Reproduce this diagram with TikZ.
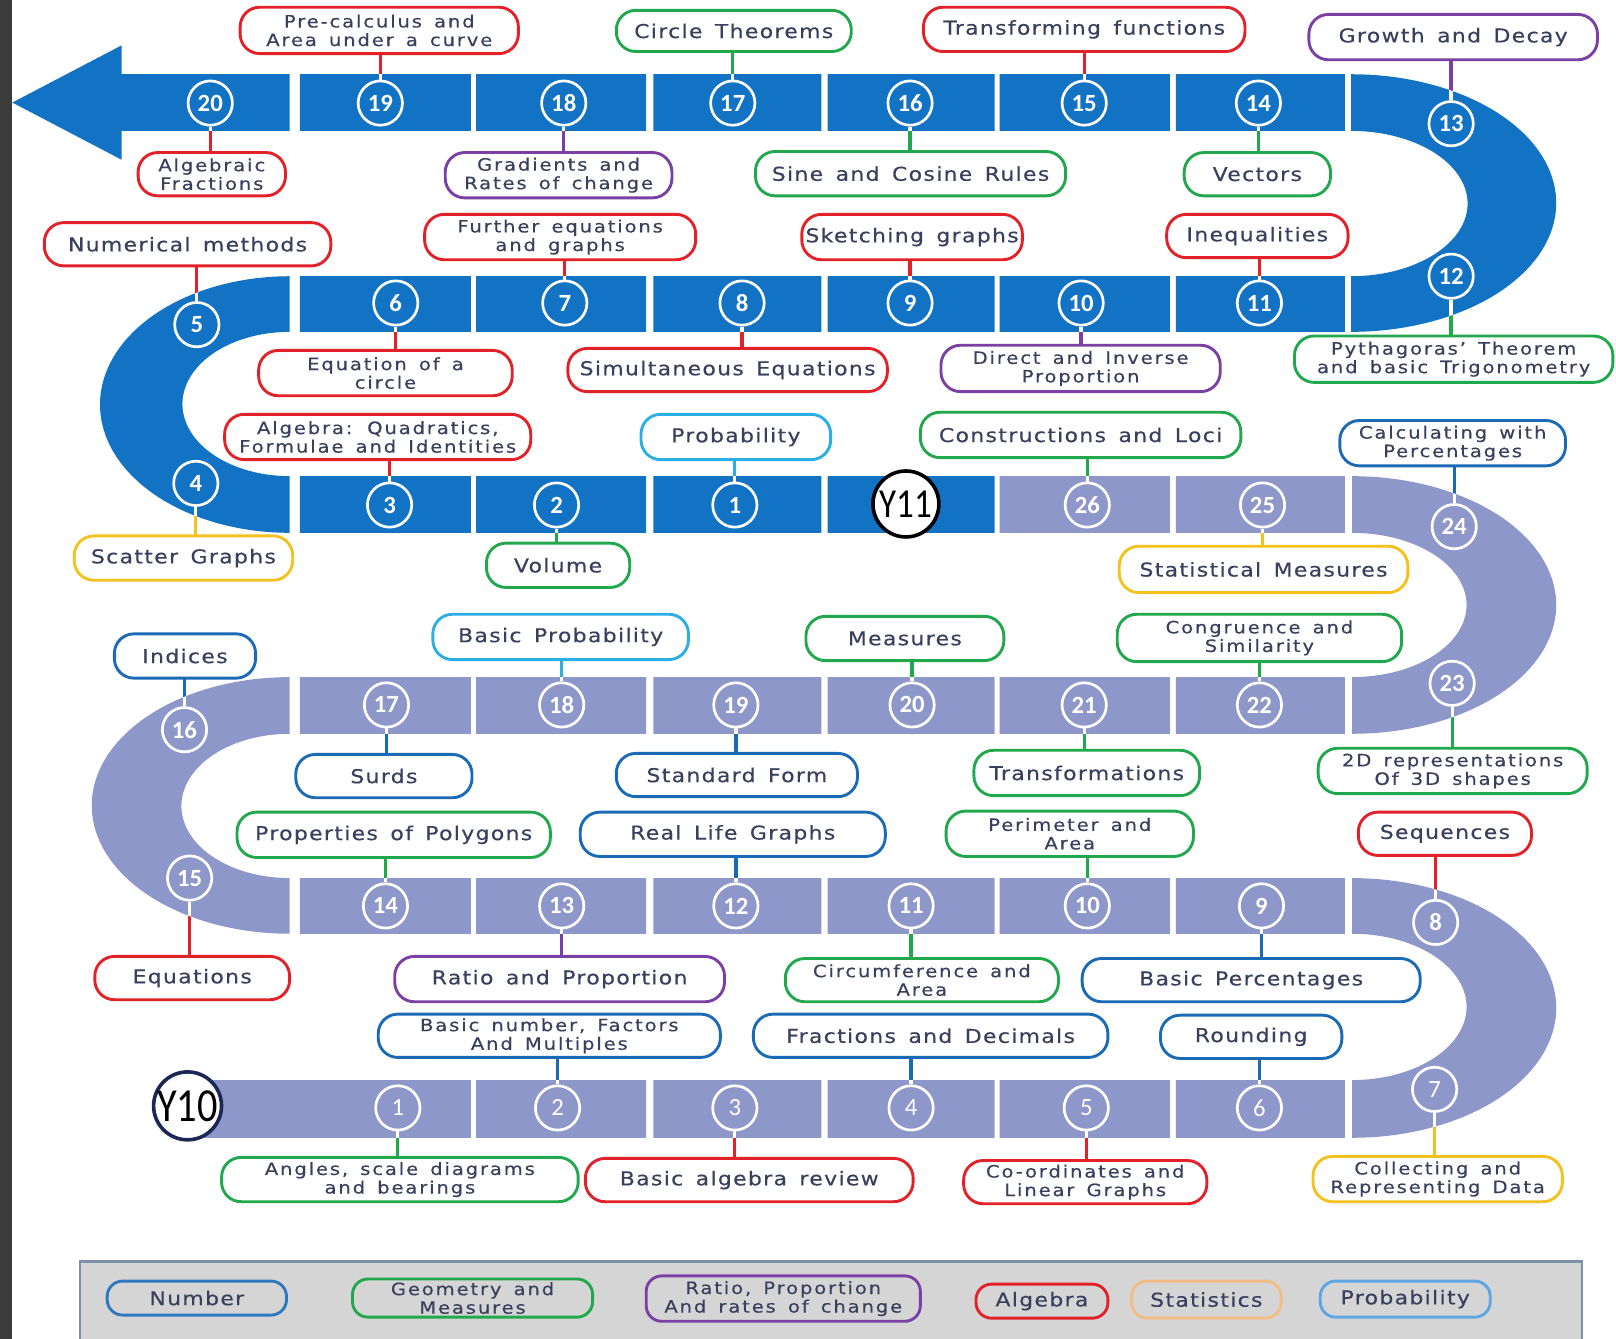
\documentclass[tikz,border=0pt]{standalone}
\usepackage{fontspec}
\setmainfont{DejaVu Sans}
\newfontfamily\labfamA{DejaVu Sans}[FakeStretch=1.15,FakeBold=0.4,LetterSpace=7,WordSpace=1.5]
\newfontfamily\labfamB{DejaVu Sans}[FakeStretch=1.15,FakeBold=0.4,LetterSpace=11,WordSpace=1.5]
\newfontfamily\numfam{Carlito}
\newfontfamily\yearfam{Carlito}[FakeStretch=0.85]
\newfontfamily\yeartenfam{Carlito}[FakeStretch=0.85]
\newcommand\labone{\labfamA\fontsize{18.5}{20}\selectfont}
\newcommand\labtwo{\labfamB\fontsize{16.5}{18}\selectfont}

\definecolor{bandblue}{HTML}{1272C4}
\definecolor{bandlav}{HTML}{8E97C9}
\definecolor{ink}{HTML}{38405E}
\definecolor{algebra}{HTML}{E32128}
\definecolor{geometry}{HTML}{22A84C}
\definecolor{ratio}{HTML}{7B40A3}
\definecolor{stats}{HTML}{F4C21F}
\definecolor{number}{HTML}{1A6AB5}
\definecolor{prob}{HTML}{2AAEE5}
\definecolor{statsleg}{HTML}{F3BE86}
\definecolor{probleg}{HTML}{5EA6E3}
\definecolor{numberleg}{HTML}{2E78BF}
\definecolor{legfill}{HTML}{D5D5D5}
\definecolor{legedge}{HTML}{7E90A8}
\definecolor{sidebar}{HTML}{3B3B3B}
\definecolor{yringten}{HTML}{1C2755}

\pgfdeclarelayer{canvas}
\pgfdeclarelayer{bands}
\pgfdeclarelayer{links}
\pgfsetlayers{canvas,bands,links,main}

\tikzset{
  topic/.style={draw=#1, line width=2.8pt, rounded corners=19pt, fill=white, text=ink,
    align=center, inner sep=0pt, font=\labone},
  topic2/.style={topic=#1, font=\labtwo},
  numc/.style={circle, draw=white, line width=2.6pt, minimum size=43pt, inner sep=0pt,
    text=white, font=\numfam\bfseries\fontsize{24}{24}\selectfont},
  circblue/.style={numc, fill=bandblue},
  circlav/.style={numc, fill=bandlav},
  circlavthin/.style={circlav, font=\numfam\fontsize{24}{24}\selectfont},
  yearc/.style={circle, fill=white, line width=3.5pt, minimum size=64pt, inner sep=0pt,
    text=black, font=\yearfam\fontsize{40}{40}\selectfont},
  yearten/.style={yearc, minimum size=62pt, font=\yeartenfam\fontsize{46}{46}\selectfont},
  link/.style={line width=3.2pt},
  legitem/.style={draw=#1, line width=2.8pt, rounded corners=15pt, text=ink,
    align=center, inner sep=0pt, font=\labone},
  legitem2/.style={legitem=#1, font=\labtwo},
}

% Year 11 track (dark blue): arrow row, right bend, middle row, left bend, start row
\def\bandsBlue{
  (12,99.5) -- (118,44) -- (118,72) -- (281,72) -- (281,127) -- (118,127) -- (118,155) -- cycle
  (291,72) rectangle (457,127) (462,72) rectangle (627,127) (634,72) rectangle (797,127)
  (803,72) rectangle (965,127) (970,72) rectangle (1135,127) (1141,72) rectangle (1305,127)
  plot[domain=-90:90,samples=72] ({1311+199*cos(\x)},{197+125*sin(\x)})
  -- plot[domain=90:-90,samples=72] ({1311+113*cos(\x)},{197.5+70.5*sin(\x)}) -- cycle
  (291,268) rectangle (457,322) (462,268) rectangle (627,322) (634,268) rectangle (797,322)
  (803,268) rectangle (965,322) (970,268) rectangle (1135,322) (1141,268) rectangle (1305,322)
  plot[domain=270:90,samples=72] ({281+184*cos(\x)},{392.5+124.5*sin(\x)})
  -- plot[domain=90:270,samples=72] ({281+104*cos(\x)},{392+70*sin(\x)}) -- cycle
  (291,462) rectangle (457,517) (462,462) rectangle (627,517) (634,462) rectangle (797,517)
  (803,462) rectangle (965,517)
}
% Year 10 track (lavender)
\def\bandsLav{
  (970,462) rectangle (1135,517) (1141,462) rectangle (1305,517)
  plot[domain=-90:90,samples=72] ({1312+198*cos(\x)},{587+125*sin(\x)})
  -- plot[domain=90:-90,samples=72] ({1312+111*cos(\x)},{587+70*sin(\x)}) -- cycle
  (291,657) rectangle (457,712) (462,657) rectangle (627,712) (634,657) rectangle (797,712)
  (803,657) rectangle (965,712) (970,657) rectangle (1135,712) (1141,657) rectangle (1305,712)
  plot[domain=270:90,samples=72] ({281+192*cos(\x)},{781.5+124.5*sin(\x)})
  -- plot[domain=90:270,samples=72] ({281+105*cos(\x)},{782+70*sin(\x)}) -- cycle
  (291,852) rectangle (457,906) (462,852) rectangle (627,906) (634,852) rectangle (797,906)
  (803,852) rectangle (965,906) (970,852) rectangle (1135,906) (1141,852) rectangle (1305,906)
  plot[domain=-90:90,samples=72] ({1312+198*cos(\x)},{978+126*sin(\x)})
  -- plot[domain=90:-90,samples=72] ({1312+111*cos(\x)},{977+71*sin(\x)}) -- cycle
  (182,1048) rectangle (457,1104) (462,1048) rectangle (627,1104) (634,1048) rectangle (797,1104)
  (803,1048) rectangle (965,1104) (970,1048) rectangle (1135,1104) (1141,1048) rectangle (1305,1104)
}

% topic box / numbered stop / colour
\def\linklist{prec/c19/algebra, circth/c17/geometry, transf/c15/algebra, growth/c13/ratio,
  algfrac/c20/algebra, grad/c18/ratio, sine/c16/geometry, vect/c14/geometry,
  numer/c5/algebra, further/c7/algebra, sketch/c9/algebra, ineq/c11/algebra,
  eqcirc/c6/algebra, simul/c8/algebra, direct/c10/ratio, pyth/c12/geometry,
  algq/c3/algebra, probA/c1/prob, constr/d26/geometry, calcpct/d24/number,
  scatter/c4/stats, volume/c2/geometry, statm/d25/stats,
  indices/d16/number, bprob/d18/prob, measures/d20/geometry, congr/d22/geometry,
  surds/d17/number, stdform/d19/number, transfm/d21/geometry, twod/d23/geometry,
  polyg/d14/geometry, reallife/d12/number, perim/d10/geometry, seq/d8/algebra,
  equat/d15/algebra, ratiop/d13/ratio, circum/d11/geometry, bpct/d9/number,
  bnumb/d2/number, fracdec/d4/number, rounding/d6/number,
  angles/d1/geometry, balg/d3/algebra, coord/d5/algebra, collect/d7/stats}

\begin{document}
\begin{tikzpicture}[x=1pt,y=-1pt]
\useasboundingbox (0,0) rectangle (1568,1299);
\begin{pgfonlayer}{canvas}
  \fill[white] (0,0) rectangle (1568,1299);
  \fill[sidebar] (0,0) rectangle (12,1299);
\end{pgfonlayer}

\begin{pgfonlayer}{bands}
  \fill[bandblue] \bandsBlue;
  \fill[bandlav] \bandsLav;
\end{pgfonlayer}

% ---- numbered stops, Year 11
\node[circblue] (c20) at (204,100) {20};
\node[circblue] (c19) at (369,100) {19};
\node[circblue] (c18) at (547,100) {18};
\node[circblue] (c17) at (711,100) {17};
\node[circblue] (c16) at (883,100) {16};
\node[circblue] (c15) at (1052,100) {15};
\node[circblue] (c14) at (1221,100) {14};
\node[circblue] (c13) at (1408,120) {13};
\node[circblue] (c12) at (1408,268) {12};
\node[circblue] (c11) at (1222,294) {11};
\node[circblue] (c10) at (1049,294) {10};
\node[circblue] (c9) at (883,294) {9};
\node[circblue] (c8) at (720,294) {8};
\node[circblue] (c7) at (548,294) {7};
\node[circblue] (c6) at (384,294) {6};
\node[circblue] (c5) at (191,315) {5};
\node[circblue] (c4) at (190,469) {4};
\node[circblue] (c3) at (378,490) {3};
\node[circblue] (c2) at (540,490) {2};
\node[circblue] (c1) at (713,490) {1};
\node[yearc, draw=black] (yeleven) at (879,489) {Y11};

% ---- numbered stops, Year 10
\node[circlav] (d26) at (1055,490) {26};
\node[circlav] (d25) at (1225,490) {25};
\node[circlav] (d24) at (1411,511) {24};
\node[circlav] (d23) at (1409,663) {23};
\node[circlav] (d22) at (1222,684) {22};
\node[circlav] (d21) at (1052,684) {21};
\node[circlav] (d20) at (885,684) {20};
\node[circlav] (d19) at (714,684) {19};
\node[circlav] (d18) at (545,684) {18};
\node[circlav] (d17) at (375,684) {17};
\node[circlav] (d16) at (179,708) {16};
\node[circlav] (d15) at (184,852) {15};
\node[circlav] (d14) at (374,879) {14};
\node[circlav] (d13) at (545,879) {13};
\node[circlav] (d12) at (714,879) {12};
\node[circlav] (d11) at (884,879) {11};
\node[circlav] (d10) at (1055,879) {10};
\node[circlav] (d9) at (1224,879) {9};
\node[circlav] (d8) at (1393,895) {8};
\node[circlavthin] (d7) at (1392,1057) {7};
\node[circlavthin] (d6) at (1222,1075) {6};
\node[circlavthin] (d5) at (1054,1075) {5};
\node[circlavthin] (d4) at (884,1075) {4};
\node[circlavthin] (d3) at (713,1075) {3};
\node[circlavthin] (d2) at (541,1075) {2};
\node[circlavthin] (d1) at (386,1075) {1};
\node[yearten, draw=yringten] (yten) at (182,1073) {Y10};

% ---- topic boxes
\node[topic2=algebra, minimum width=270pt, minimum height=45pt] (prec) at (368,29.5) {Pre-calculus and\\Area under a curve};
\node[topic=geometry, minimum width=228pt, minimum height=40pt] (circth) at (712,30) {Circle Theorems};
\node[topic=algebra, minimum width=312pt, minimum height=43pt] (transf) at (1052,28.5) {Transforming functions};
\node[topic=ratio, minimum width=280pt, minimum height=44pt] (growth) at (1410,36) {Growth and Decay};
\node[topic2=algebra, minimum width=143pt, minimum height=42pt] (algfrac) at (205.5,169) {Algebraic\\Fractions};
\node[topic2=ratio, minimum width=220pt, minimum height=44pt] (grad) at (542,170) {Gradients and\\Rates of change};
\node[topic=geometry, minimum width=301pt, minimum height=43pt] (sine) at (883.5,168.5) {Sine and Cosine Rules};
\node[topic=geometry, minimum width=142pt, minimum height=42pt] (vect) at (1220,169) {Vectors};

\node[topic=algebra, minimum width=278pt, minimum height=42pt] (numer) at (182,237) {Numerical methods};
\node[topic2=algebra, minimum width=263pt, minimum height=44pt] (further) at (543.5,230) {Further equations\\and graphs};
\node[topic=algebra, minimum width=214pt, minimum height=44pt] (sketch) at (885,230) {Sketching graphs};
\node[topic=algebra, minimum width=176pt, minimum height=42pt] (ineq) at (1220,229) {Inequalities};
\node[topic2=algebra, minimum width=246pt, minimum height=44pt] (eqcirc) at (374,362) {Equation of a\\circle};
\node[topic=algebra, minimum width=310pt, minimum height=42pt] (simul) at (706,359) {Simultaneous Equations};
\node[topic2=ratio, minimum width=271pt, minimum height=45pt] (direct) at (1048.5,357.5) {Direct and Inverse\\Proportion};
\node[topic2=geometry, minimum width=309pt, minimum height=45pt] (pyth) at (1410.5,348.5) {Pythagoras’ Theorem\\and basic Trigonometry};

\node[topic2=algebra, minimum width=297pt, minimum height=44pt] (algq) at (366.5,424) {Algebra: Quadratics,\\Formulae and Identities};
\node[topic=prob, minimum width=184pt, minimum height=44pt] (probA) at (714,424) {Probability};
\node[topic=geometry, minimum width=311pt, minimum height=44pt] (constr) at (1048.5,422) {Constructions and Loci};
\node[topic2=number, minimum width=219pt, minimum height=44pt] (calcpct) at (1409.5,430) {Calculating with\\Percentages};
\node[topic=stats, minimum width=212pt, minimum height=43pt] (scatter) at (178,541.5) {Scatter Graphs};
\node[topic=geometry, minimum width=139pt, minimum height=43pt] (volume) at (541.5,548.5) {Volume};
\node[topic=stats, minimum width=280pt, minimum height=45pt] (statm) at (1226,552.5) {Statistical Measures};

\node[topic=number, minimum width=137pt, minimum height=43pt] (indices) at (179.5,636.5) {Indices};
\node[topic=prob, minimum width=248pt, minimum height=44pt] (bprob) at (544,618) {Basic Probability};
\node[topic=geometry, minimum width=192pt, minimum height=43pt] (measures) at (878,619.5) {Measures};
\node[topic2=geometry, minimum width=276pt, minimum height=46pt] (congr) at (1222,619) {Congruence and\\Similarity};
\node[topic=number, minimum width=171pt, minimum height=42pt] (surds) at (372.5,753) {Surds};
\node[topic=number, minimum width=234pt, minimum height=42pt] (stdform) at (715,752) {Standard Form};
\node[topic=geometry, minimum width=219pt, minimum height=44pt] (transfm) at (1054.5,750) {Transformations};
\node[topic2=geometry, minimum width=261pt, minimum height=44pt] (twod) at (1409.5,748) {2D representations\\Of 3D shapes};

\node[topic=geometry, minimum width=304pt, minimum height=44pt] (polyg) at (382,810) {Properties of Polygons};
\node[topic=number, minimum width=296pt, minimum height=43pt] (reallife) at (711,809.5) {Real Life Graphs};
\node[topic2=geometry, minimum width=240pt, minimum height=44pt] (perim) at (1038,809) {Perimeter and\\Area};
\node[topic=algebra, minimum width=168pt, minimum height=42pt] (seq) at (1402,809) {Sequences};
\node[topic=algebra, minimum width=189pt, minimum height=42pt] (equat) at (186.5,949) {Equations};
\node[topic=ratio, minimum width=320pt, minimum height=44pt] (ratiop) at (543,950) {Ratio and Proportion};
\node[topic2=geometry, minimum width=265pt, minimum height=42pt] (circum) at (894.5,951) {Circumference and\\Area};
\node[topic=number, minimum width=328pt, minimum height=42pt] (bpct) at (1214,951) {Basic Percentages};

\node[topic2=number, minimum width=332pt, minimum height=42pt] (bnumb) at (533,1005) {Basic number, Factors\\And Multiples};
\node[topic=number, minimum width=344pt, minimum height=42pt] (fracdec) at (903,1005) {Fractions and Decimals};
\node[topic=number, minimum width=176pt, minimum height=42pt] (rounding) at (1214,1006) {Rounding};
\node[topic2=geometry, minimum width=346pt, minimum height=43pt] (angles) at (388,1144.5) {Angles, scale diagrams\\and bearings};
\node[topic=algebra, minimum width=318pt, minimum height=42pt] (balg) at (727,1145) {Basic algebra review};
\node[topic2=algebra, minimum width=236pt, minimum height=42pt] (coord) at (1053,1147) {Co-ordinates and\\Linear Graphs};
\node[topic2=stats, minimum width=242pt, minimum height=44pt] (collect) at (1395,1144) {Collecting and\\Representing Data};

% ---- connectors: coloured outside the track, white across it
\begin{pgfonlayer}{links}
  \foreach \lb/\cb/\kb in \linklist {
    \draw[link, draw=\kb] (\cb |- \lb) -- (\cb);
  }
  \begin{scope}
    \clip \bandsBlue \bandsLav;
    \foreach \lb/\cb/\kb in \linklist {
      \draw[link, draw=white] (\cb |- \lb) -- (\cb);
    }
  \end{scope}
\end{pgfonlayer}

% ---- key
\draw[legedge, fill=legfill, line width=2pt] (78,1224) rectangle (1535,1310);
\node[legitem=numberleg, minimum width=174pt, minimum height=33pt] (kn) at (191,1259.5) {Number};
\node[legitem2=geometry, minimum width=233pt, minimum height=37pt] (kg) at (458.5,1259.5) {Geometry and\\Measures};
\node[legitem2=ratio, minimum width=266pt, minimum height=44pt] (kr) at (760,1260) {Ratio, Proportion\\And rates of change};
\node[legitem=algebra, minimum width=128pt, minimum height=33pt] (ka) at (1011,1262.5) {Algebra};
\node[legitem=statsleg, minimum width=145pt, minimum height=36pt] (ks) at (1170.5,1261) {Statistics};
\node[legitem=probleg, minimum width=165pt, minimum height=35pt] (kp) at (1363.5,1260.5) {Probability};
\end{tikzpicture}
\end{document}
